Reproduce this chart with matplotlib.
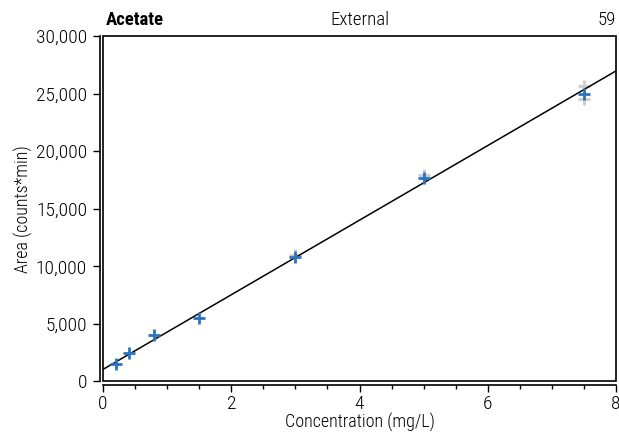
import numpy as np
import matplotlib
matplotlib.use("Agg")
import matplotlib.pyplot as plt
from matplotlib.patches import Rectangle
from matplotlib.ticker import FuncFormatter, MultipleLocator

plt.rcParams['font.family'] = ['Roboto Condensed', 'Archivo Narrow', 'Roboto', 'DejaVu Sans']
plt.rcParams['font.weight'] = 'light'
plt.rcParams['axes.labelweight'] = 'light'

# calibration points (mean) and replicate injections
conc = [0.2, 0.4, 0.8, 1.5, 3.0, 5.0, 7.5]
area = [1500, 2500, 4000, 5500, 10800, 17700, 25000]
rep_conc = [3.0, 5.0, 7.5, 7.5]
rep_area = [11000, 17900, 25700, 24500]

# linear fit
fit_slope = 3240
fit_intercept = 1050

fig = plt.figure(figsize=(6.19, 4.34), dpi=100)
ax = fig.add_axes([0.1664, 0.121, 0.8288, 0.796])

ax.plot(rep_conc, rep_area, '+', color='#cccccc', ms=8, mew=2, zorder=2)
fx = np.array([0, 8])
ax.plot(fx, fit_intercept + fit_slope * fx, color='black', lw=1.1, zorder=3)
ax.plot(conc, area, '+', color='#2a74bf', ms=8, mew=2, zorder=4)

ax.set_xlim(0, 8)
ax.set_ylim(0, 30000)
ax.xaxis.set_major_locator(MultipleLocator(2))
ax.xaxis.set_minor_locator(MultipleLocator(0.5))
ax.yaxis.set_major_locator(MultipleLocator(5000))
ax.yaxis.set_major_formatter(FuncFormatter(lambda v, p: f"{int(v):,}"))

for s in ['top', 'right']:
    ax.spines[s].set_visible(False)
ax.spines['left'].set_position(('outward', 2.5))
ax.spines['bottom'].set_position(('outward', 2.5))
ax.spines['left'].set_linewidth(1.2)
ax.spines['bottom'].set_linewidth(1.2)
ax.add_patch(Rectangle((0, 0), 1, 1, transform=ax.transAxes, fill=False,
                       lw=1.2, ec='black', clip_on=False, zorder=5))

ax.tick_params(axis='both', which='major', length=5, width=1, labelsize=14)
ax.tick_params(axis='y', which='major', pad=4)
ax.tick_params(axis='x', which='major', pad=2)
ax.tick_params(axis='x', which='minor', length=3, width=1)

ax.set_xlabel("Concentration (mg/L)", fontsize=13, labelpad=0)
ax.set_ylabel("Area (counts*min)", fontsize=13, labelpad=2)

ax.text(0.005, 1.02, "Acetate", transform=ax.transAxes, fontsize=13.5,
        fontweight='bold', ha='left', va='bottom')
ax.text(0.5, 1.02, "External", transform=ax.transAxes, fontsize=13.5,
        ha='center', va='bottom')
ax.text(1.0, 1.02, "59", transform=ax.transAxes, fontsize=13.5,
        ha='right', va='bottom')

plt.savefig("out.png", dpi=100)
